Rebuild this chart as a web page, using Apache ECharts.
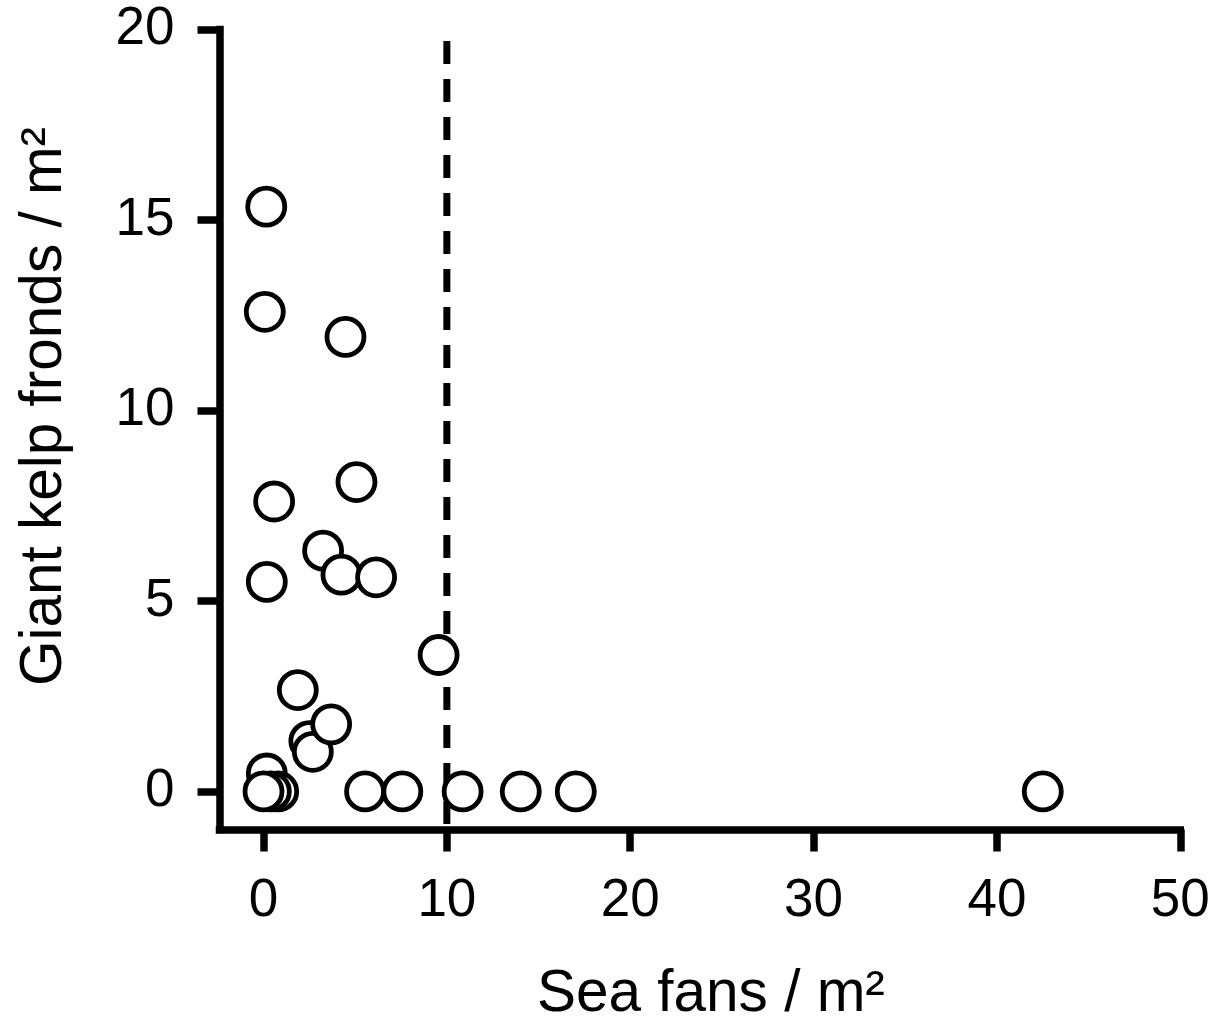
<!DOCTYPE html>
<html>
<head>
<meta charset="utf-8">
<title>Giant kelp fronds vs sea fans</title>
<script src="https://cdn.jsdelivr.net/npm/echarts@6/dist/echarts.min.js"></script>
<style>
  html, body { margin: 0; padding: 0; background: #ffffff; }
  #chart { width: 1223px; height: 1019px; }
</style>
</head>
<body>
<div id="chart"></div>
<script>
// Survey sites: sea fan density vs giant kelp frond density (per m²)
const seaFans = [0.15, 0.07, 4.47, 5.07, 0.58, 3.25, 4.25, 6.14, 0.18, 9.55, 1.87, 2.5, 2.69, 3.69, 0.18, 0.8, 0.4, 0, 5.54, 7.57, 10.86, 14.03, 17.03, 42.5];
const kelpFronds = [15.35, 12.59, 11.93, 8.12, 7.61, 6.32, 5.69, 5.62, 5.5, 3.58, 2.66, 1.32, 1.04, 1.76, 0.47, 0, 0, 0, 0, 0, 0, 0, 0, 0];

// Threshold at 10 sea fans / m²
const thresholdX = [10, 10];
const thresholdY = [19.7, -1];

const xTicks = [0, 10, 20, 30, 40, 50];
const yTicks = [0, 5, 10, 15, 20];

const FONT = 'Liberation Sans, Arial, sans-serif';

const points = seaFans.map((x, i) => [x, kelpFronds[i]]);
const threshold = thresholdX.map((x, i) => [x, thresholdY[i]]);

const axisCommon = {
  axisLine: { show: true, onZero: false, lineStyle: { color: '#000', width: 7.5, cap: 'square' } },
  axisTick: { show: true, length: 22, lineStyle: { color: '#000', width: 7.5 } },
  splitLine: { show: false },
  axisLabel: { color: '#000', fontSize: 53, fontFamily: FONT, margin: 45 },
  nameTextStyle: { color: '#000', fontSize: 58.5, fontFamily: FONT }
};

const chart = echarts.init(document.getElementById('chart'), null, { renderer: 'canvas' });
chart.setOption({
  animation: false,
  backgroundColor: '#ffffff',
  grid: { left: 219.5, right: 42.7, top: 29.5, bottom: 189.5, containLabel: false, outerBoundsMode: 'none' },
  xAxis: Object.assign({}, axisCommon, {
    type: 'value',
    min: -2.4,
    max: 50,
    name: 'Sea fans / m²',
    nameLocation: 'middle',
    nameGap: 136,
    nameTextStyle: Object.assign({}, axisCommon.nameTextStyle, { padding: [0, 0, 0, 22] }),
    axisTick: Object.assign({}, axisCommon.axisTick, { customValues: xTicks }),
    axisLabel: Object.assign({}, axisCommon.axisLabel, { customValues: xTicks })
  }),
  yAxis: Object.assign({}, axisCommon, {
    type: 'value',
    min: -1,
    max: 20,
    name: 'Giant kelp fronds / m²',
    nameLocation: 'middle',
    nameGap: 145,
    nameTextStyle: Object.assign({}, axisCommon.nameTextStyle, { padding: [0, 0, 0, 46] }),
    axisTick: Object.assign({}, axisCommon.axisTick, { customValues: yTicks }),
    axisLabel: Object.assign({}, axisCommon.axisLabel, { customValues: yTicks })
  }),
  series: [
    {
      type: 'line',
      data: threshold,
      symbol: 'none',
      silent: true,
      z: 1,
      lineStyle: { color: '#000', width: 7, type: [23, 15] }
    },
    {
      type: 'scatter',
      data: points,
      symbol: 'circle',
      symbolSize: 37,
      z: 3,
      itemStyle: { color: '#ffffff', borderColor: '#000', borderWidth: 4.8, opacity: 1 }
    }
  ]
});
</script>
</body>
</html>
